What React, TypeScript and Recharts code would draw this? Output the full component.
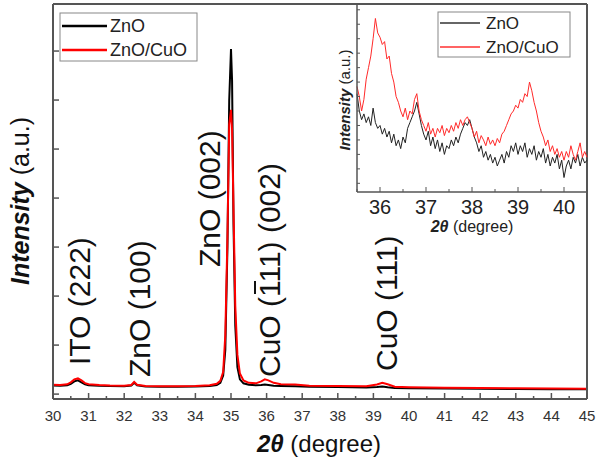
import { Line, LineChart, XAxis, YAxis } from 'recharts'

// main pattern (2θ in degrees, intensity in arbitrary counts)
const angles = [
  30.0, 30.2, 30.4, 30.5, 30.6, 30.7, 30.8, 30.9, 31.0, 31.3, 31.6, 32.0, 32.2, 32.28, 32.36,
  32.6, 33.0, 33.5, 34.0, 34.4, 34.6, 34.7, 34.78, 34.84, 34.9, 34.95, 35.0, 35.03, 35.07,
  35.12, 35.18, 35.25, 35.35, 35.5, 35.7, 35.85, 35.95, 36.05, 36.2, 36.4, 36.8, 37.2, 38.0,
  38.8, 39.1, 39.25, 39.4, 39.6, 40.0, 41.0, 42.0, 43.0, 44.0, 45.0,
]
const znoCuo = [
  190, 185, 200, 240, 300, 320, 280, 225, 200, 185, 175, 170, 185, 250, 190,
  165, 160, 160, 165, 180, 210, 270, 450, 1200, 3200, 5500, 5800, 5400, 3800,
  1800, 800, 420, 280, 230, 220, 260, 300, 280, 230, 200, 195, 170, 165,
  160, 195, 230, 200, 150, 140, 130, 125, 120, 115, 110,
]
const zno = [
  175, 170, 180, 210, 260, 280, 240, 200, 180, 170, 165, 160, 175, 230, 180,
  155, 150, 150, 155, 165, 185, 230, 380, 900, 3000, 6000, 7040, 6400, 3500,
  1400, 550, 300, 220, 190, 180, 185, 195, 185, 170, 165, 160, 150, 145,
  135, 145, 155, 140, 125, 120, 115, 110, 105, 100, 100,
]

const mainTicksX = [
  30, 30.5, 31, 31.5, 32, 32.5, 33, 33.5, 34, 34.5, 35, 35.5, 36, 36.5, 37, 37.5, 38, 38.5,
  39, 39.5, 40, 40.5, 41, 41.5, 42, 42.5, 43, 43.5, 44, 44.5, 45,
]
const mainTicksY = [0, 1000, 2000, 3000, 4000, 5000, 6000, 7000]

// inset: 35.5 .. 40.5 in 0.05 degree steps
const insetAngles = [
  35.5, 35.55, 35.6, 35.65, 35.7, 35.75, 35.8, 35.85, 35.9, 35.95,
  36.0, 36.05, 36.1, 36.15, 36.2, 36.25, 36.3, 36.35, 36.4, 36.45,
  36.5, 36.55, 36.6, 36.65, 36.7, 36.75, 36.8, 36.85, 36.9, 36.95,
  37.0, 37.05, 37.1, 37.15, 37.2, 37.25, 37.3, 37.35, 37.4, 37.45,
  37.5, 37.55, 37.6, 37.65, 37.7, 37.75, 37.8, 37.85, 37.9, 37.95,
  38.0, 38.05, 38.1, 38.15, 38.2, 38.25, 38.3, 38.35, 38.4, 38.45,
  38.5, 38.55, 38.6, 38.65, 38.7, 38.75, 38.8, 38.85, 38.9, 38.95,
  39.0, 39.05, 39.1, 39.15, 39.2, 39.25, 39.3, 39.35, 39.4, 39.45,
  39.5, 39.55, 39.6, 39.65, 39.7, 39.75, 39.8, 39.85, 39.9, 39.95,
  40.0, 40.05, 40.1, 40.15, 40.2, 40.25, 40.3, 40.35, 40.4, 40.45, 40.5,
]
const insetCuo = [
  67, 60, 50, 58, 72, 80, 88, 100, 114, 104,
  101, 96, 98, 86, 88, 76, 70, 60, 56, 50,
  46, 52, 44, 50, 48, 58, 62, 50, 44, 40,
  36, 42, 34, 38, 32, 38, 35, 40, 33, 38,
  35, 40, 36, 42, 38, 44, 40, 44, 46, 42,
  38, 32, 36, 28, 33, 30, 26, 32, 27, 30,
  26, 31, 28, 34, 36, 40, 44, 48, 50, 54,
  52, 58, 56, 62, 60, 70, 64, 56, 50, 42,
  36, 32, 26, 30, 22, 26, 20, 24, 18, 22,
  16, 22, 18, 26, 20, 16, 22, 28, 18, 22, 18,
]
const insetZno = [
  62, 50, 44, 48, 42, 46, 40, 52, 42, 38,
  40, 34, 38, 32, 36, 28, 34, 26, 30, 24,
  32, 28, 38, 42, 46, 50, 56, 48, 40, 34,
  30, 36, 26, 32, 24, 30, 22, 28, 20, 26,
  24, 30, 26, 32, 28, 34, 38, 42, 40, 44,
  38, 32, 28, 22, 26, 18, 22, 16, 20, 14,
  18, 12, 16, 20, 14, 22, 18, 26, 22, 28,
  20, 26, 22, 28, 18, 24, 20, 26, 16, 22,
  18, 24, 14, 20, 12, 18, 14, 20, 10, 16,
  4, 12, 16, 10, 18, 14, 20, 12, 18, 14, 16,
]
const insetTicksX = [35.5, 36, 36.5, 37, 37.5, 38, 38.5, 39, 39.5, 40, 40.5]
const insetTicksY = [0, 10, 20, 30, 40, 50, 60, 70, 80, 90, 100, 110, 120]

const mainData = angles.map((a, i) => ({ angle: a, zno: zno[i], cuo: znoCuo[i] }))
const insetData = insetAngles.map((a, i) => ({ angle: a, zno: insetZno[i], cuo: insetCuo[i] }))

const font = '"Liberation Sans", Arial, sans-serif'
const axisColor = '#555'

function MainXTick(props: any) {
  const { x, y, payload } = props
  const major = Number.isInteger(payload.value)
  return (
    <g>
      <line x1={x} x2={x} y1={y} y2={y - (major ? 6 : 3)} stroke={axisColor} strokeWidth={1.5} />
      {major && (
        <text x={x} y={y + 22} textAnchor='middle' fontSize={15} fill='#333' fontFamily={font}>
          {payload.value}
        </text>
      )}
    </g>
  )
}

function MainYTick(props: any) {
  const { x, y } = props
  return <line x1={x} x2={x + 6} y1={y} y2={y} stroke={axisColor} strokeWidth={1.5} />
}

function InsetXTick(props: any) {
  const { x, y, payload } = props
  const major = Number.isInteger(payload.value)
  return (
    <g>
      <line x1={x} x2={x} y1={y} y2={y - (major ? 5 : 3)} stroke={axisColor} strokeWidth={1} />
      {major && (
        <text x={x} y={y + 22} textAnchor='middle' fontSize={20} fill='#222' fontFamily={font}>
          {payload.value}
        </text>
      )}
    </g>
  )
}

function InsetYTick(props: any) {
  const { x, y } = props
  return <line x1={x} x2={x + 3} y1={y} y2={y} stroke={axisColor} strokeWidth={1} />
}

function Rotated({ x, y, size, children }: any) {
  return (
    <text
      transform={`translate(${x},${y}) rotate(-90)`}
      fontSize={size}
      fontFamily={font}
      fill='#111'
    >
      {children}
    </text>
  )
}

export default function App() {
  return (
    <div style={{ position: 'absolute', left: 0, top: 0, width: 600, height: 469, background: '#fff' }}>
      <div style={{ position: 'absolute', left: 0, top: 0 }}>
        <LineChart width={600} height={469} data={mainData} margin={{ top: 3, right: 12, left: 52, bottom: 69 }}>
          <XAxis
            dataKey='angle'
            type='number'
            domain={[30, 45]}
            ticks={mainTicksX}
            interval={0}
            height={1}
            tickSize={0}
            tickMargin={0}
            tickLine={false}
            tick={<MainXTick />}
            stroke={axisColor}
            strokeWidth={2}
          />
          <XAxis xAxisId='top' orientation='top' type='number' domain={[30, 45]} height={1} tick={false} tickLine={false} stroke={axisColor} strokeWidth={2} />
          <YAxis
            type='number'
            domain={[-100, 7960]}
            ticks={mainTicksY}
            interval={0}
            width={1}
            tickSize={0}
            tickMargin={0}
            tickLine={false}
            tick={<MainYTick />}
            stroke={axisColor}
            strokeWidth={2}
          />
          <YAxis yAxisId='right' orientation='right' type='number' domain={[0, 1]} width={1} tick={false} tickLine={false} stroke={axisColor} strokeWidth={2} />
          <Line dataKey='zno' stroke='#000' strokeWidth={2} dot={false} isAnimationActive={false} />
          <Line dataKey='cuo' stroke='#ff0000' strokeWidth={2} dot={false} isAnimationActive={false} />
        </LineChart>
      </div>

      <div style={{ position: 'absolute', left: 320, top: 0 }}>
        <LineChart width={280} height={240} data={insetData} margin={{ top: 4, right: 13, left: 36, bottom: 47 }}>
          <XAxis
            dataKey='angle'
            type='number'
            domain={[35.5, 40.5]}
            ticks={insetTicksX}
            interval={0}
            height={1}
            tickSize={0}
            tickMargin={0}
            tickLine={false}
            tick={<InsetXTick />}
            stroke={axisColor}
            strokeWidth={1.5}
          />
          <YAxis
            type='number'
            domain={[-6, 124]}
            ticks={insetTicksY}
            interval={0}
            width={1}
            tickSize={0}
            tickMargin={0}
            tickLine={false}
            tick={<InsetYTick />}
            stroke={axisColor}
            strokeWidth={1.5}
          />
          <Line dataKey='zno' stroke='#222' strokeWidth={1} dot={false} isAnimationActive={false} />
          <Line dataKey='cuo' stroke='#ff2a2a' strokeWidth={1} dot={false} isAnimationActive={false} />
        </LineChart>
      </div>

      <svg width={600} height={469} style={{ position: 'absolute', left: 0, top: 0, pointerEvents: 'none' }}>
        {/* main legend */}
        <rect x={60} y={13} width={137} height={48} fill='#fff' stroke='#888' strokeWidth={1} />
        <line x1={62} x2={107} y1={26} y2={26} stroke='#000' strokeWidth={2.5} />
        <line x1={62} x2={107} y1={50} y2={50} stroke='#ff0000' strokeWidth={2.5} />
        <text x={110} y={32} fontSize={18} fontFamily={font} fill='#222'>ZnO</text>
        <text x={110} y={56} fontSize={18} fontFamily={font} fill='#222'>ZnO/CuO</text>

        {/* inset legend */}
        <rect x={438} y={12} width={132} height={45} fill='#fff' stroke='#888' strokeWidth={1} />
        <line x1={440} x2={480} y1={23} y2={23} stroke='#333' strokeWidth={1.5} />
        <line x1={440} x2={480} y1={47} y2={47} stroke='#ff3030' strokeWidth={1.5} />
        <text x={486} y={29} fontSize={17} fontFamily={font} fill='#222'>ZnO</text>
        <text x={486} y={53} fontSize={17} fontFamily={font} fill='#222'>ZnO/CuO</text>

        {/* axis titles */}
        <text x={319} y={452} textAnchor='middle' fontSize={24} fontFamily={font} fill='#111'>
          <tspan fontWeight='bold' fontStyle='italic'>2θ</tspan>
          <tspan>{'  (degree)'}</tspan>
        </text>
        <text transform='translate(29,201) rotate(-90)' textAnchor='middle' fontSize={25} fontFamily={font} fill='#111'>
          <tspan fontWeight='bold' fontStyle='italic'>Intensity</tspan>
          <tspan>{' (a.u.)'}</tspan>
        </text>
        <text x={472} y={232} textAnchor='middle' fontSize={16} fontFamily={font} fill='#222'>
          <tspan fontWeight='bold' fontStyle='italic'>2θ</tspan>
          <tspan>{' (degree)'}</tspan>
        </text>
        <text transform='translate(350,100) rotate(-90)' textAnchor='middle' fontSize={15} fontFamily={font} fill='#222'>
          <tspan fontWeight='bold' fontStyle='italic'>Intensity</tspan>
          <tspan>{' (a.u.)'}</tspan>
        </text>

        {/* peak labels */}
        <Rotated x={90} y={365} size={30}>ITO (222)</Rotated>
        <Rotated x={150} y={377} size={30}>ZnO (100)</Rotated>
        <Rotated x={220} y={267} size={30}>ZnO (002)</Rotated>
        <g transform='translate(280,377) rotate(-90)'>
          <text fontSize={30} fontFamily={font} fill='#111'>CuO (111) (002)</text>
          <line x1={83} x2={96} y1={-25} y2={-25} stroke='#111' strokeWidth={2} />
        </g>
        <Rotated x={397} y={371} size={30}>CuO (111)</Rotated>
      </svg>
    </div>
  )
}
